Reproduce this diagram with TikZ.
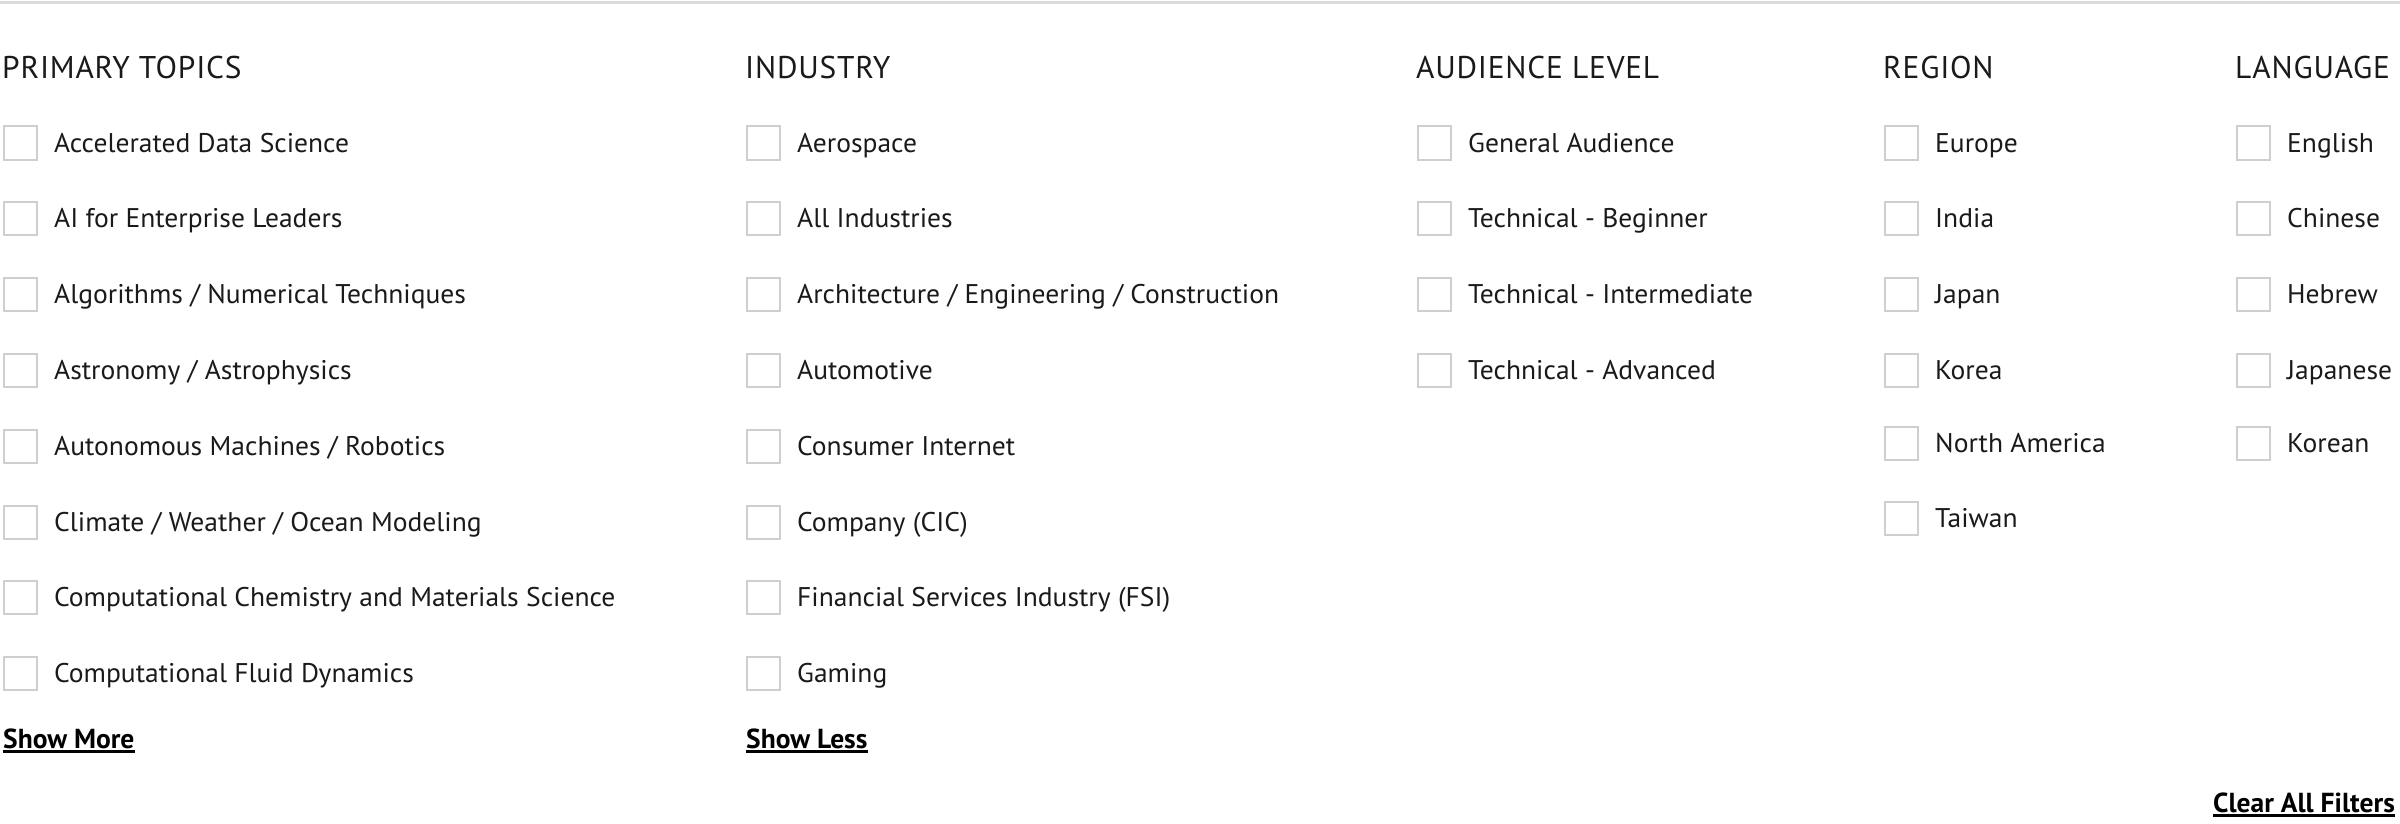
\documentclass[tikz,border=0pt]{standalone}
\usepackage{fontspec}
\setmainfont{PT Sans}
\newfontfamily\itemfont[FakeStretch=1.02]{PT Sans}
\newfontfamily\headfont[LetterSpace=2.5]{PT Sans}
\definecolor{ink}{HTML}{1A1A1A}
\definecolor{boxgray}{HTML}{CFCFCF}
\definecolor{rulegray}{HTML}{DCDCDC}
\tikzset{
  cbox/.style={draw=boxgray, line width=2pt, minimum width=33pt, minimum height=33pt, inner sep=0pt, anchor=west},
  itemtxt/.style={font=\itemfont\fontsize{27}{30}\selectfont, text=ink, anchor=base west, inner sep=0pt},
  headtxt/.style={font=\headfont\fontsize{31.4}{34}\selectfont, text=ink, anchor=base west, inner sep=0pt},
  linktxt/.style={font=\bfseries\fontsize{27.5}{30}\selectfont, text=black, anchor=base west, inner sep=0pt},
  uline/.style={draw=black, line width=3pt},
}
\newcommand\cbitem[4]{%
  \node[cbox] (#1b) at (#2+1,#3) {};
  \node[itemtxt] (#1t) at (#2+52,#3+9) {#4};}
\begin{document}
\begin{tikzpicture}[x=1pt,y=-1pt]
\useasboundingbox (0,0) rectangle (2400,824);
\fill[white] (0,0) rectangle (2400,824);
\draw[rulegray, line width=3pt] (0,3) -- (2400,3);
% headers
\node[headtxt] (h1) at (2,79) {PRIMARY TOPICS};
\node[headtxt] (h2) at (745,79) {INDUSTRY};
\node[headtxt] (h3) at (1416,79) {AUDIENCE LEVEL};
\node[headtxt] (h4) at (1883,79) {REGION};
\node[headtxt] (h5) at (2235,79) {LANGUAGE};
% primary topics
\cbitem{pa}{2}{143}{Accelerated Data Science}
\cbitem{pb}{2}{218.8}{AI for Enterprise Leaders}
\cbitem{pc}{2}{294.6}{Algorithms / Numerical Techniques}
\cbitem{pd}{2}{370.4}{Astronomy / Astrophysics}
\cbitem{pe}{2}{446.2}{Autonomous Machines / Robotics}
\cbitem{pf}{2}{522}{Climate / Weather / Ocean Modeling}
\cbitem{pg}{2}{597.8}{Computational Chemistry and Materials Science}
\cbitem{ph}{2}{673.6}{Computational Fluid Dynamics}
% industry
\cbitem{ia}{745}{143}{Aerospace}
\cbitem{ib}{745}{218.8}{All Industries}
\cbitem{ic}{745}{294.6}{Architecture / Engineering / Construction}
\cbitem{id}{745}{370.4}{Automotive}
\cbitem{ie}{745}{446.2}{Consumer Internet}
\cbitem{if}{745}{522}{Company (CIC)}
\cbitem{ig}{745}{597.8}{Financial Services Industry (FSI)}
\cbitem{ih}{745}{673.6}{Gaming}
% audience
\cbitem{aa}{1416}{143}{General Audience}
\cbitem{ab}{1416}{218.8}{Technical - Beginner}
\cbitem{ac}{1416}{294.6}{Technical - Intermediate}
\cbitem{ad}{1416}{370.4}{Technical - Advanced}
% region
\cbitem{ra}{1883}{143}{Europe}
\cbitem{rb}{1883}{218.8}{India}
\cbitem{rc}{1883}{294.6}{Japan}
\cbitem{rd}{1883}{370.4}{Korea}
\cbitem{re}{1883}{443}{North America}
\cbitem{rf}{1883}{518}{Taiwan}
% language
\cbitem{la}{2235}{143}{English}
\cbitem{lb}{2235}{218.8}{Chinese}
\cbitem{lc}{2235}{294.6}{Hebrew}
\cbitem{ld}{2235}{370.4}{Japanese}
\cbitem{le}{2235}{443}{Korean}
% links
\node[linktxt] (more) at (3,748) {Show More};
\draw[uline] ([yshift=-3pt]more.base west) -- ([yshift=-3pt]more.base east);
\node[linktxt] (less) at (746,748) {Show Less};
\draw[uline] ([yshift=-3pt]less.base west) -- ([yshift=-3pt]less.base east);
\node[linktxt, anchor=base east] (clear) at (2395,812) {Clear All Filters};
\draw[uline] ([yshift=-3pt]clear.base west) -- ([yshift=-3pt]clear.base east);
\end{tikzpicture}
\end{document}
